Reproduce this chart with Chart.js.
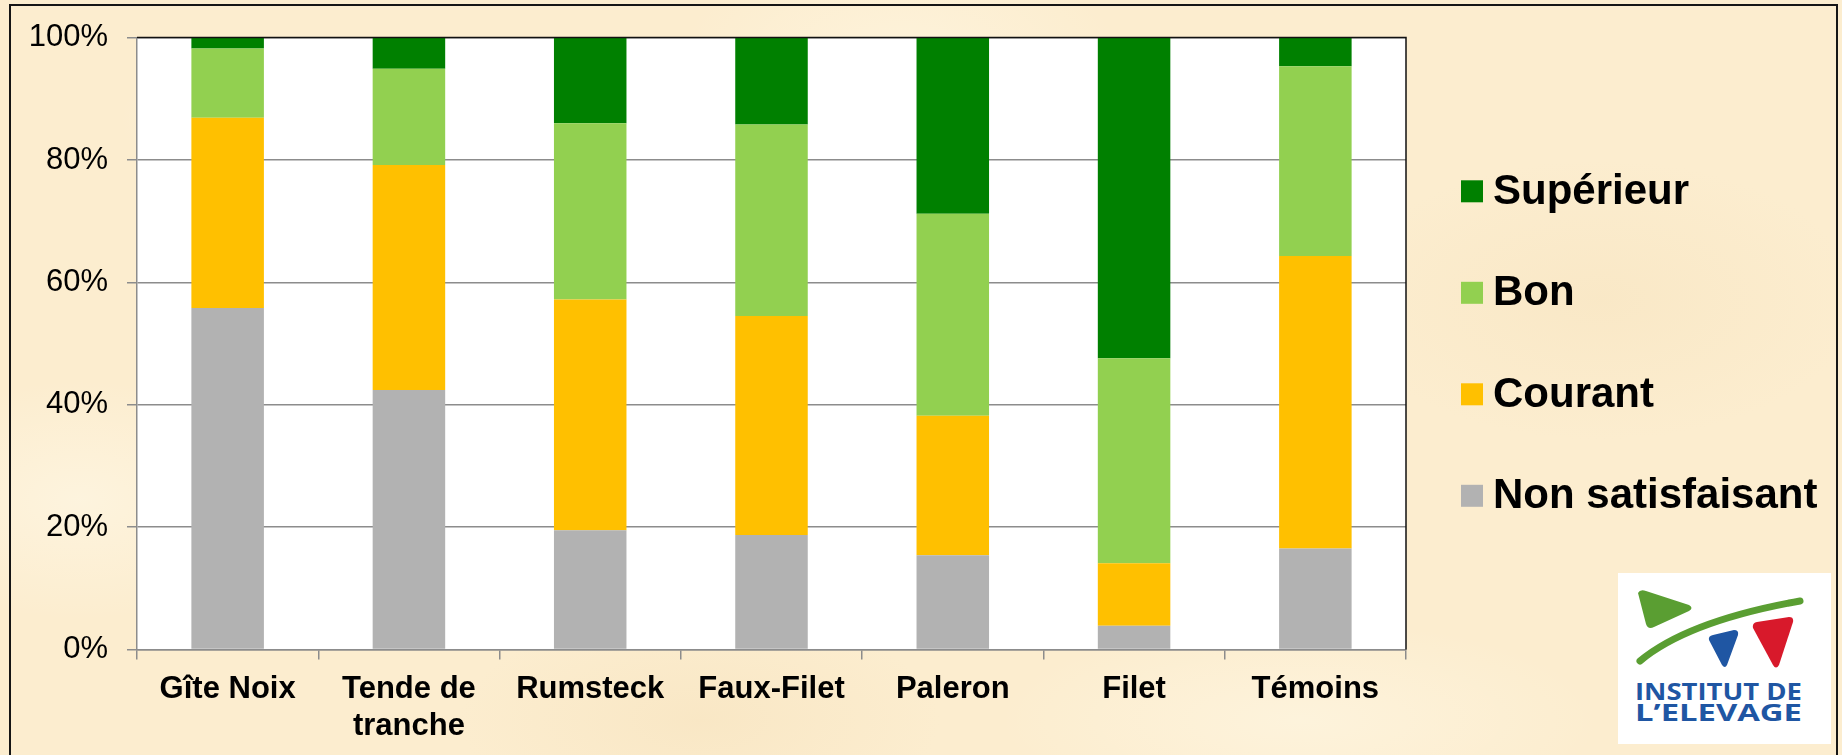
<!DOCTYPE html>
<html lang="fr">
<head>
    <meta charset="UTF-8">
    <title>Appréciation de la tendreté par morceau</title>
    <script src="https://cdn.jsdelivr.net/npm/chart.js"></script>
    <style>
        html, body {
            margin: 0;
            padding: 0;
            width: 1842px;
            height: 755px;
            overflow: hidden;
        }
        body {
            position: relative;
            font-family: "Liberation Sans", Arial, sans-serif;
            background-color: #fcedcf;
            background-image:
                radial-gradient(ellipse 180px 90px at 300px 120px, rgba(255,250,235,0.55), rgba(255,250,235,0)),
                radial-gradient(ellipse 220px 120px at 900px 60px, rgba(255,248,230,0.5), rgba(255,248,230,0)),
                radial-gradient(ellipse 260px 140px at 1600px 300px, rgba(246,226,188,0.45), rgba(246,226,188,0)),
                radial-gradient(ellipse 240px 110px at 700px 720px, rgba(245,224,185,0.45), rgba(245,224,185,0)),
                radial-gradient(ellipse 200px 120px at 80px 500px, rgba(255,250,236,0.5), rgba(255,250,236,0)),
                radial-gradient(ellipse 300px 100px at 1300px 720px, rgba(255,249,232,0.5), rgba(255,249,232,0));
        }
        #frame {
            position: absolute;
            left: 9px;
            top: 4px;
            width: 1829px;
            height: 760px;
            border: 2px solid #151515;
            border-bottom: none;
            box-sizing: border-box;
            pointer-events: none;
        }
        #chart {
            position: absolute;
            left: 0;
            top: 0;
        }
        #logo {
            position: absolute;
            left: 1618px;
            top: 573px;
            width: 213px;
            height: 171px;
            background: #ffffff;
        }
    </style>
</head>
<body>
    <canvas id="chart" width="1842" height="755"></canvas>
    <div id="frame"></div>
    <div id="logo">
        <svg width="213" height="171" viewBox="0 0 213 171">
            <path d="M20 20 Q22 16 28 18 L71 32 Q76 35 71 38 L36 54 Q30 57 28 51 Z" fill="#5a9e32"/>
            <path d="M22 88 Q70 48 182 28" fill="none" stroke="#5a9e32" stroke-width="7" stroke-linecap="round"/>
            <path d="M91 67 Q90 63 95 62 L116 57 Q121 57 120 62 L109 92 Q107 96 104 92 Z" fill="#1f56a3"/>
            <path d="M135 55 Q134 50 139 49 L171 44 Q176 44 175 49 L161 92 Q158 97 155 92 Z" fill="#d8192b"/>
            <text x="17" y="127" textLength="167" lengthAdjust="spacingAndGlyphs"
                  font-family="'Open Sans', 'Liberation Sans', sans-serif" font-weight="bold" font-size="23" fill="#1f56a3">INSTITUT DE</text>
            <text x="17" y="147.5" textLength="167" lengthAdjust="spacingAndGlyphs"
                  font-family="'Open Sans', 'Liberation Sans', sans-serif" font-weight="bold" font-size="23" fill="#1f56a3">L’ELEVAGE</text>
        </svg>
    </div>

    <script>
        // morceaux évalués
        const categories = ['Gîte Noix', ['Tende de', 'tranche'], 'Rumsteck', 'Faux-Filet', 'Paleron', 'Filet', 'Témoins'];

        // répartition des notes (%)
        const nonSatisfaisant = [55.8, 42.4, 19.5, 18.7, 15.4, 3.9, 16.5];
        const courant = [31.1, 36.8, 37.7, 35.8, 22.8, 10.2, 47.8];
        const bon = [11.3, 15.7, 28.8, 31.3, 33.0, 33.5, 31.0];
        const superieur = [1.8, 5.1, 14.0, 14.2, 28.8, 52.4, 4.7];

        const yTicks = [0, 20, 40, 60, 80, 100];

        const FONT = '"Liberation Sans", Arial, sans-serif';

        // fond blanc de la zone de tracé + cadre noir haut/droite
        const plotFrame = {
            id: 'plotFrame',
            beforeDraw(chart) {
                const { ctx, chartArea: a } = chart;
                ctx.save();
                ctx.fillStyle = '#ffffff';
                ctx.fillRect(a.left, a.top, a.right - a.left, a.bottom - a.top);
                ctx.restore();
            },
            afterDraw(chart) {
                const { ctx, chartArea: a } = chart;
                ctx.save();
                ctx.strokeStyle = '#111111';
                ctx.lineWidth = 1.5;
                ctx.beginPath();
                ctx.moveTo(a.left, a.top);
                ctx.lineTo(a.right, a.top);
                ctx.lineTo(a.right, a.bottom);
                ctx.stroke();
                ctx.restore();
            }
        };

        // légende à droite, de Supérieur à Non satisfaisant
        const sideLegend = {
            id: 'sideLegend',
            afterDraw(chart) {
                const { ctx, chartArea: a } = chart;
                const items = chart.data.datasets.slice().reverse();
                const spacing = 101.5;
                const mid = (a.top + a.bottom) / 2;
                const boxX = a.right + 55;
                const box = 22;
                ctx.save();
                ctx.font = 'bold 42px ' + FONT;
                ctx.textBaseline = 'middle';
                ctx.textAlign = 'left';
                items.forEach((ds, i) => {
                    const y = mid + (i - (items.length - 1) / 2) * spacing;
                    ctx.fillStyle = ds.backgroundColor;
                    ctx.fillRect(boxX, y - box / 2, box, box);
                    ctx.fillStyle = '#000000';
                    ctx.fillText(ds.label, boxX + box + 10, y + 1);
                });
                ctx.restore();
            }
        };

        const ctx = document.getElementById('chart').getContext('2d');

        new Chart(ctx, {
            type: 'bar',
            data: {
                labels: categories,
                datasets: [
                    { label: 'Non satisfaisant', data: nonSatisfaisant, backgroundColor: '#b2b2b2' },
                    { label: 'Courant', data: courant, backgroundColor: '#ffc000' },
                    { label: 'Bon', data: bon, backgroundColor: '#92d050' },
                    { label: 'Supérieur', data: superieur, backgroundColor: '#008000' }
                ]
            },
            options: {
                responsive: false,
                animation: false,
                devicePixelRatio: 1,
                layout: {
                    padding: { left: 0, top: 37.5, right: 436, bottom: 0 }
                },
                datasets: {
                    bar: {
                        barPercentage: 0.4,
                        categoryPercentage: 1,
                        borderWidth: 0
                    }
                },
                scales: {
                    x: {
                        stacked: true,
                        offset: true,
                        grid: {
                            drawOnChartArea: false,
                            drawTicks: true,
                            tickLength: 10,
                            color: '#8c8c8c',
                            lineWidth: 1.5
                        },
                        border: { color: '#8c8c8c', width: 1.5 },
                        ticks: {
                            color: '#000000',
                            padding: 11,
                            maxRotation: 0,
                            autoSkip: false,
                            font: { family: FONT, size: 31, weight: 'bold', lineHeight: 1.2 }
                        },
                        afterFit(scale) { scale.height = 105.5; }
                    },
                    y: {
                        stacked: true,
                        min: 0,
                        max: 100,
                        afterBuildTicks(scale) {
                            scale.ticks = yTicks.map(v => ({ value: v }));
                        },
                        grid: {
                            color: '#8c8c8c',
                            lineWidth: 1.5,
                            tickLength: 10
                        },
                        border: { color: '#8c8c8c', width: 1.5 },
                        ticks: {
                            color: '#000000',
                            padding: 19,
                            font: { family: FONT, size: 31 },
                            callback: v => v + '%'
                        },
                        afterFit(scale) { scale.width = 137; }
                    }
                },
                plugins: {
                    legend: { display: false },
                    tooltip: { enabled: false }
                }
            },
            plugins: [plotFrame, sideLegend]
        });
    </script>
</body>
</html>
